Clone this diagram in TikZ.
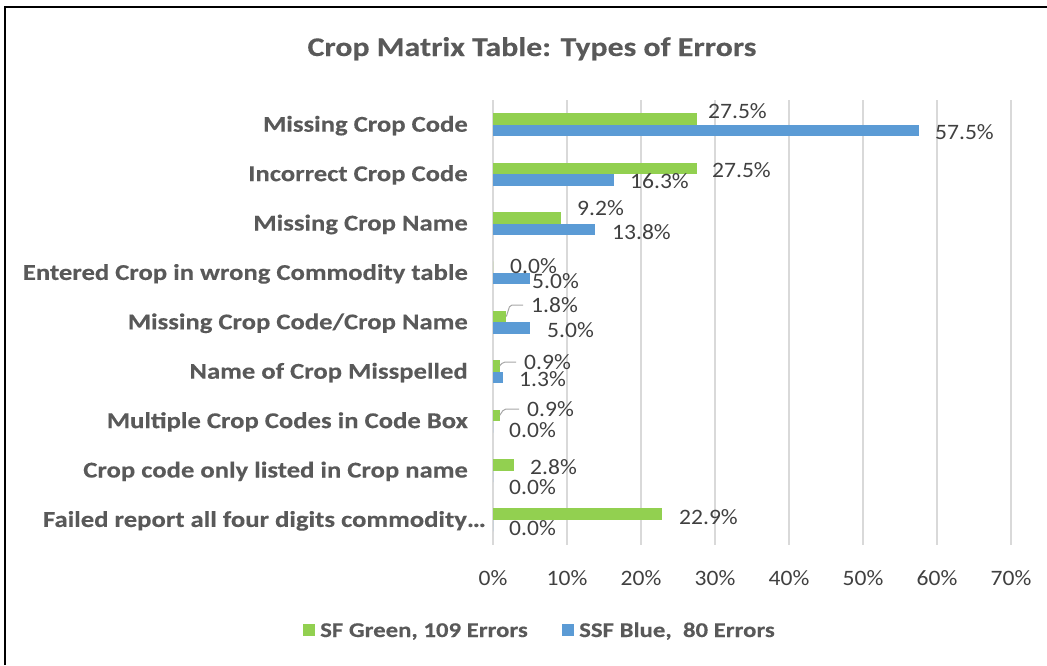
\documentclass[tikz,border=0pt]{standalone}
\usepackage{fontspec}
\setmainfont{Carlito}
\newfontfamily\widebold{Carlito}[UprightFont=* Bold, FakeStretch=1.18, FakeBold=0.3]
\newfontfamily\wideregular{Carlito}[FakeStretch=1.07]
\definecolor{sfgreen}{HTML}{92D050}
\definecolor{ssfblue}{HTML}{5B9BD5}
\definecolor{gridgray}{HTML}{D9D9D9}
\definecolor{labelgray}{HTML}{595959}
\definecolor{valuegray}{HTML}{404040}
\definecolor{leadergray}{HTML}{A6A6A6}

\begin{document}
\begin{tikzpicture}[x=1pt,y=-1pt,
  titletext/.style={anchor=base, inner sep=0, text=labelgray,
    font=\widebold\fontsize{27}{30}\selectfont},
  catlabel/.style={anchor=base east, inner sep=0, text=labelgray,
    font=\widebold\fontsize{22.6}{24}\selectfont},
  vallabel/.style={anchor=west, inner sep=0, text=valuegray,
    font=\wideregular\fontsize{22}{24}\selectfont},
  ticklabel/.style={anchor=base, inner sep=0, text=valuegray,
    font=\wideregular\fontsize{22}{24}\selectfont},
  legendtext/.style={anchor=base west, inner sep=0, text=labelgray,
    font=\widebold\fontsize{21}{24}\selectfont},
  gridline/.style={draw=gridgray, line width=1.5pt},
  greenbar/.style={fill=sfgreen},
  bluebar/.style={fill=ssfblue},
  leaderline/.style={draw=leadergray, line width=1pt, rounded corners=2pt},
  frameline/.style={draw=black, line width=2.5pt}]

\useasboundingbox (0,0) rectangle (1047,665);

% frame edges
\draw[frameline] (5,665) -- (5,7) -- (1047,7);

% title
\node[titletext] (title) at (532,56) {Crop Matrix Table: Types of Errors};

% vertical grid lines and axis labels (0% at x=493, 74 units per 10%)
\foreach \k in {0,...,7}{
  \draw[gridline] ({493+74*\k},100) -- ({493+74*\k},545);
}
\node[ticklabel] (t0) at (493,585.5) {0\%};
\foreach \k in {1,...,7}{
  \node[ticklabel] (t\k) at ({493+74*\k},585.5) {\k0\%};
}

% bars: index / centre y / green value / blue value
\foreach \i/\c/\g/\b in {1/124.7/27.5/57.5, 2/174.1/27.5/16.3, 3/223.5/9.2/13.8,
    4/272.9/0.0/5.0, 5/322.3/1.8/5.0, 6/371.7/0.9/1.3, 7/421.1/0.9/0.0,
    8/470.5/2.8/0.0, 9/519.9/22.9/0.0}{
  \fill[greenbar] (493,{\c-11.5}) rectangle ({493+7.4*\g},\c);
  \fill[bluebar] (493,\c) rectangle ({493+7.4*\b},{\c+11.5});
  \coordinate (g\i) at ({493+7.4*\g},{\c-5.75});
}

% category labels
\node[catlabel] (c1) at (468,131.7) {Missing Crop Code};
\node[catlabel] (c2) at (468,181.1) {Incorrect Crop Code};
\node[catlabel] (c3) at (468,230.5) {Missing Crop Name};
\node[catlabel] (c4) at (468,279.9) {Entered Crop in wrong Commodity table};
\node[catlabel] (c5) at (468,329.3) {Missing Crop Code/Crop Name};
\node[catlabel] (c6) at (468,378.7) {Name of Crop Misspelled};
\node[catlabel] (c7) at (468,428.1) {Multiple Crop Codes in Code Box};
\node[catlabel] (c8) at (468,477.5) {Crop code only listed in Crop name};
\node[catlabel] (c9) at (486,526.9) {Failed report all four digits commodity…};

% data labels
\node[vallabel] (v1g) at (708,111) {27.5\%};
\node[vallabel] (v1b) at (935,132) {57.5\%};
\node[vallabel] (v2g) at (712,170) {27.5\%};
\node[vallabel] (v2b) at (630,181) {16.3\%};
\node[vallabel] (v3g) at (577,208) {9.2\%};
\node[vallabel] (v3b) at (612,232) {13.8\%};
\node[vallabel] (v4g) at (510,266) {0.0\%};
\node[vallabel] (v4b) at (532,281) {5.0\%};
\node[vallabel] (v5g) at (531,305) {1.8\%};
\node[vallabel] (v5b) at (547,330) {5.0\%};
\node[vallabel] (v6g) at (524,362) {0.9\%};
\node[vallabel] (v6b) at (519,379) {1.3\%};
\node[vallabel] (v7g) at (527,409) {0.9\%};
\node[vallabel] (v7b) at (509,430) {0.0\%};
\node[vallabel] (v8g) at (530,467) {2.8\%};
\node[vallabel] (v8b) at (509,487) {0.0\%};
\node[vallabel] (v9g) at (679,517) {22.9\%};
\node[vallabel] (v9b) at (509,528) {0.0\%};

% leader lines for the small green values
\draw[leaderline] (g5) -- ([xshift=-21]v5g.west) -- ([xshift=-8]v5g.west);
\draw[leaderline] (g6) -- ([xshift=-21]v6g.west) -- ([xshift=-8]v6g.west);
\draw[leaderline] (g7) -- ([xshift=-23]v7g.west) -- ([xshift=-8]v7g.west);

% legend
\fill[sfgreen] (303,624) rectangle (315,636);
\node[legendtext] (lg) at (320,637) {SF Green, 109 Errors};
\fill[ssfblue] (562,624) rectangle (574,636);
\node[legendtext] (lb) at (579,637) {SSF Blue,~ 80 Errors};
\end{tikzpicture}
\end{document}
